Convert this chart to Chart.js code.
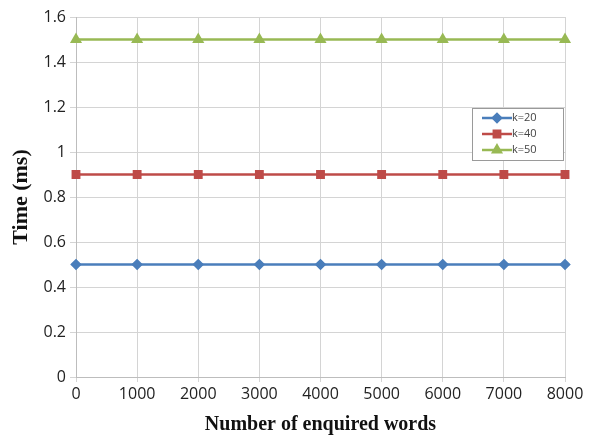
<!DOCTYPE html>
<html>
<head>
<meta charset="utf-8">
<script src="https://cdn.jsdelivr.net/npm/chart.js@4/dist/chart.umd.min.js"></script>
<style>
  html, body { margin: 0; padding: 0; background: #fff; }
  #wrap { width: 589px; height: 441px; }
</style>
</head>
<body>
<div id="wrap"><canvas id="chart" width="589" height="441"></canvas></div>
<script>
// data
const words = ['0', '1000', '2000', '3000', '4000', '5000', '6000', '7000', '8000'];
const k20 = [0.5, 0.5, 0.5, 0.5, 0.5, 0.5, 0.5, 0.5, 0.5];
const k40 = [0.9, 0.9, 0.9, 0.9, 0.9, 0.9, 0.9, 0.9, 0.9];
const k50 = [1.5, 1.5, 1.5, 1.5, 1.5, 1.5, 1.5, 1.5, 1.5];
const seriesLabels = ['k=20', 'k=40', 'k=50'];

const tickFont = { family: 'Open Sans, Liberation Sans, sans-serif', size: 16 };
const titleFont = { family: 'Liberation Serif, DejaVu Serif, serif', size: 22, weight: 'bold' };

// legend drawn inside the plot area
const boxLegend = {
  id: 'boxLegend',
  afterDraw(chart) {
    const ctx = chart.ctx;
    const x0 = 472, y0 = 108, w = 91, h = 52;
    ctx.save();
    ctx.fillStyle = '#fff';
    ctx.fillRect(x0, y0, w, h);
    ctx.strokeStyle = '#9a9a9a';
    ctx.lineWidth = 1;
    ctx.strokeRect(x0 + 0.5, y0 + 0.5, w, h);
    chart.data.datasets.forEach((ds, i) => {
      const y = y0 + 10 + i * 16;
      ctx.strokeStyle = ds.borderColor;
      ctx.lineWidth = 2.5;
      ctx.beginPath();
      ctx.moveTo(x0 + 10, y);
      ctx.lineTo(x0 + 40, y);
      ctx.stroke();
      ctx.fillStyle = ds.borderColor;
      Chart.helpers.drawPoint(ctx, { pointStyle: ds.pointStyle, radius: ds.pointRadius, borderWidth: 1 }, x0 + 25, y);
      ctx.fillStyle = '#444';
      ctx.font = '11px Open Sans, Liberation Sans, sans-serif';
      ctx.textBaseline = 'middle';
      ctx.fillText(ds.label, x0 + 40, y);
    });
    ctx.restore();
  }
};

new Chart(document.getElementById('chart'), {
  type: 'line',
  data: {
    labels: words,
    datasets: [
      { label: seriesLabels[0], data: k20, borderColor: '#4a7ebb', backgroundColor: '#4a7ebb', pointStyle: 'rectRot', pointRadius: 4, borderWidth: 2.5 },
      { label: seriesLabels[1], data: k40, borderColor: '#be4b48', backgroundColor: '#be4b48', pointStyle: 'rect', pointRadius: 4.5, borderWidth: 2.5 },
      { label: seriesLabels[2], data: k50, borderColor: '#98b954', backgroundColor: '#98b954', pointStyle: 'triangle', pointRadius: 4.5, borderWidth: 2.5 }
    ]
  },
  options: {
    responsive: false,
    animation: false,
    layout: { padding: { top: 17, right: 24, left: 0, bottom: 0 } },
    plugins: { legend: { display: false }, tooltip: { enabled: false } },
    scales: {
      x: {
        offset: false,
        grid: { color: '#d4d4d4', tickLength: 5 },
        border: { color: '#bdbdbd' },
        ticks: { font: tickFont, color: '#222', padding: 3, maxRotation: 0 },
        title: { display: true, text: 'Number of enquired words', font: { ...titleFont, size: 20 }, color: '#111', padding: { top: 3 } },
        afterFit(s) { s.height = 64; }
      },
      y: {
        min: 0, max: 1.6,
        grid: { color: '#d4d4d4', tickLength: 6 },
        border: { color: '#bdbdbd' },
        ticks: { stepSize: 0.2, font: tickFont, color: '#222', padding: 4, callback: v => Math.round(v * 10) / 10 },
        title: { display: true, text: 'Time (ms)', font: titleFont, color: '#111', padding: { top: 8, bottom: 4 } },
        afterFit(s) { s.width = 76; }
      }
    }
  },
  plugins: [boxLegend]
});
</script>
</body>
</html>
